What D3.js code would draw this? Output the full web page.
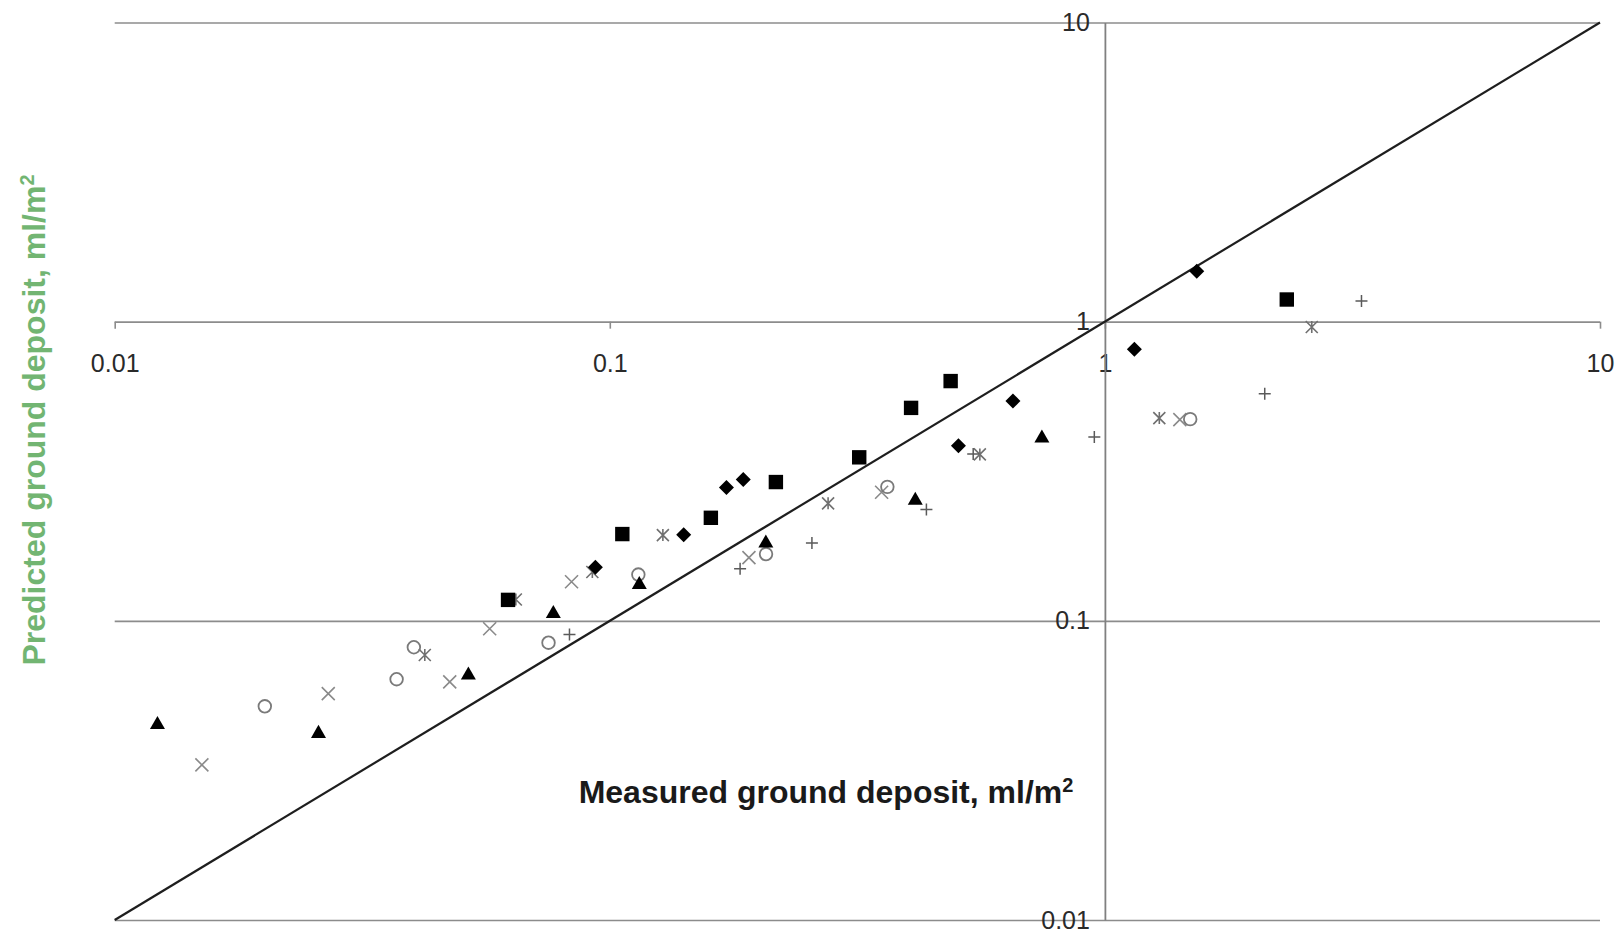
<!DOCTYPE html>
<html>
<head>
<meta charset="utf-8">
<title>Predicted vs measured ground deposit</title>
<script src="https://d3js.org/d3.v7.min.js"></script>
<style>
  body { margin: 0; background: #fff; }
  svg { display: block; font-family: "Liberation Sans", Arial, sans-serif; }
</style>
</head>
<body>
<svg width="1620" height="933"></svg>
<script>
const diamondMeasured   = [0.0935, 0.141, 0.172, 0.186, 0.506, 0.652, 1.147, 1.533];
const diamondPredicted  = [0.151, 0.194, 0.279, 0.297, 0.385, 0.543, 0.809, 1.475];
const squareMeasured    = [0.0623, 0.106, 0.160, 0.2165, 0.319, 0.406, 0.488, 2.33];
const squarePredicted   = [0.1175, 0.195, 0.221, 0.291, 0.352, 0.515, 0.633, 1.186];
const triangleMeasured  = [0.0122, 0.0258, 0.0518, 0.0769, 0.1147, 0.2066, 0.414, 0.746];
const trianglePredicted = [0.0457, 0.0427, 0.0669, 0.1074, 0.1343, 0.1848, 0.257, 0.4145];
const crossMeasured     = [0.015, 0.027, 0.0475, 0.0572, 0.0837, 0.191, 0.354, 1.417];
const crossPredicted    = [0.033, 0.0571, 0.0625, 0.0941, 0.1351, 0.1627, 0.269, 0.4707];
const starMeasured      = [0.0423, 0.0646, 0.0922, 0.128, 0.276, 0.559, 1.288, 2.617];
const starPredicted     = [0.0769, 0.1178, 0.1456, 0.1935, 0.247, 0.360, 0.476, 0.96];
const circleMeasured    = [0.0201, 0.0371, 0.0402, 0.0752, 0.1142, 0.2068, 0.3636, 1.487];
const circlePredicted   = [0.0518, 0.0638, 0.0816, 0.0845, 0.1428, 0.1672, 0.2805, 0.4722];
const plusMeasured      = [0.0829, 0.1833, 0.256, 0.436, 0.542, 0.952, 2.103, 3.298];
const plusPredicted     = [0.0901, 0.1492, 0.182, 0.2354, 0.3608, 0.4119, 0.5746, 1.173];

const tickValues = [0.01, 0.1, 1, 10];
const tickLabels = ["0.01", "0.1", "1", "10"];

const svg = d3.select("svg");
const x = d3.scaleLog().domain([0.01, 10]).range([114.7, 1600]);
const y = d3.scaleLog().domain([0.01, 10]).range([920, 22.5]);

// horizontal gridlines
svg.append("g")
  .attr("transform", `translate(${x(0.01)},0)`)
  .call(d3.axisRight(y).tickValues(tickValues).tickSize(x(10) - x(0.01)).tickFormat(""))
  .call(g => g.select(".domain").remove())
  .call(g => g.selectAll("line").attr("stroke", "#8c8c8c").attr("stroke-width", 1.6));

// x axis sits on the y = 1 line
const xAxis = svg.append("g")
  .attr("transform", `translate(0,${y(1)})`)
  .call(d3.axisBottom(x).tickValues(tickValues).tickFormat((d, i) => tickLabels[i])
    .tickSize(7).tickPadding(26));
xAxis.select(".domain").remove();
xAxis.selectAll("line").attr("stroke", "#8c8c8c").attr("stroke-width", 1.6);
xAxis.selectAll("text").attr("font-size", 25).attr("fill", "#2a2a2a");

// y axis sits on the x = 1 line
const yAxis = svg.append("g")
  .attr("transform", `translate(${x(1)},0)`)
  .call(d3.axisLeft(y).tickValues(tickValues).tickFormat((d, i) => tickLabels[i])
    .tickSize(0).tickSizeOuter(0).tickPadding(15));
yAxis.select(".domain").attr("stroke", "#808080").attr("stroke-width", 1.8);
yAxis.selectAll("text").attr("font-size", 25).attr("fill", "#2a2a2a");
xAxis.attr("font-family", null);
yAxis.attr("font-family", null);

// 1:1 line
svg.append("path")
  .datum([0.01, 10])
  .attr("d", d3.line().x(d => x(d)).y(d => y(d)))
  .attr("stroke", "#1e1e1e")
  .attr("stroke-width", 2.2)
  .attr("fill", "none");

// marker shapes, size = half width
const diamond = { draw(c, r) { c.moveTo(0, -r); c.lineTo(r, 0); c.lineTo(0, r); c.lineTo(-r, 0); c.closePath(); } };
const square = { draw(c, r) { c.rect(-r, -r, 2 * r, 2 * r); } };
const triangle = { draw(c, r) { const h = r * 0.87; c.moveTo(0, -h); c.lineTo(r, h); c.lineTo(-r, h); c.closePath(); } };
const cross = { draw(c, r) { c.moveTo(-r, -r); c.lineTo(r, r); c.moveTo(-r, r); c.lineTo(r, -r); } };
const star = { draw(c, r) { c.moveTo(-r, -r); c.lineTo(r, r); c.moveTo(-r, r); c.lineTo(r, -r); c.moveTo(0, -r); c.lineTo(0, r); } };
const ring = { draw(c, r) { c.moveTo(r, 0); c.arc(0, 0, r, 0, 2 * Math.PI); } };
const plus = { draw(c, r) { c.moveTo(-r, 0); c.lineTo(r, 0); c.moveTo(0, -r); c.lineTo(0, r); } };

const series = [
  { mx: crossMeasured, my: crossPredicted, type: cross, r: 6.5, fill: "none", stroke: "#8a8a8a", sw: 1.6 },
  { mx: starMeasured, my: starPredicted, type: star, r: 6, fill: "none", stroke: "#707070", sw: 1.6 },
  { mx: circleMeasured, my: circlePredicted, type: ring, r: 6.3, fill: "none", stroke: "#7a7a7a", sw: 1.8 },
  { mx: plusMeasured, my: plusPredicted, type: plus, r: 6, fill: "none", stroke: "#5a5a5a", sw: 1.5 },
  { mx: triangleMeasured, my: trianglePredicted, type: triangle, r: 7.5, fill: "#000", stroke: "none", sw: 0 },
  { mx: squareMeasured, my: squarePredicted, type: square, r: 7.2, fill: "#000", stroke: "none", sw: 0 },
  { mx: diamondMeasured, my: diamondPredicted, type: diamond, r: 7.5, fill: "#000", stroke: "none", sw: 0 }
];

series.forEach(s => {
  svg.append("g")
    .selectAll("path")
    .data(d3.zip(s.mx, s.my))
    .join("path")
    .attr("transform", d => `translate(${x(d[0])},${y(d[1])})`)
    .attr("d", d3.symbol().type(s.type).size(s.r))
    .attr("fill", s.fill)
    .attr("stroke", s.stroke)
    .attr("stroke-width", s.sw);
});

// axis titles
const xTitle = svg.append("text")
  .attr("x", 826).attr("y", 803)
  .attr("text-anchor", "middle")
  .attr("font-size", 32).attr("font-weight", "bold").attr("fill", "#1a1a1a");
xTitle.append("tspan").text("Measured ground deposit, ml/m");
xTitle.append("tspan").attr("font-size", 20).attr("dy", -11).text("2");

const yTitle = svg.append("text")
  .attr("transform", "translate(45,420) rotate(-90)")
  .attr("text-anchor", "middle")
  .attr("font-size", 32).attr("font-weight", "bold").attr("fill", "#72b572");
yTitle.append("tspan").text("Predicted ground deposit, ml/m");
yTitle.append("tspan").attr("font-size", 20).attr("dy", -11).text("2");
</script>
</body>
</html>
